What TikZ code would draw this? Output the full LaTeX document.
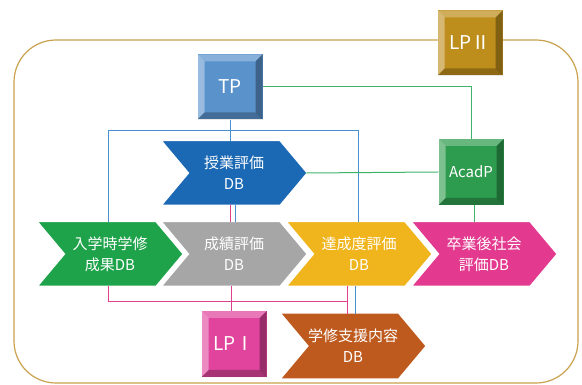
\documentclass[tikz,border=0pt]{standalone}
\usepackage{fontspec}
\setmainfont{Noto Sans CJK JP}
\usetikzlibrary{shapes.symbols,calc}
\definecolor{framec}{HTML}{C9A24E}
\definecolor{lptwo}{HTML}{BE8E1C}
\definecolor{tpc}{HTML}{5A92CC}
\definecolor{acadc}{HTML}{2E9C4E}
\definecolor{jugc}{HTML}{1B68B4}
\definecolor{nyuc}{HTML}{1FA34A}
\definecolor{seic}{HTML}{A6A6A6}
\definecolor{tasc}{HTML}{F0B41C}
\definecolor{sotc}{HTML}{E33A8F}
\definecolor{orac}{HTML}{BF5A1F}
\definecolor{lponec}{HTML}{E0449C}
\definecolor{bline}{HTML}{4A8FD0}
\definecolor{gline}{HTML}{3FB36A}
\definecolor{pline}{HTML}{E0418F}
\tikzset{
  bevelbox/.style={draw=none, fill=#1, minimum width=65pt, minimum height=65pt, inner sep=0pt,
    text=white, font=\fontsize{19}{21}\selectfont,
    path picture={
      \coordinate (ppnw) at (path picture bounding box.north west);
      \coordinate (ppse) at (path picture bounding box.south east);
      \fill[white,opacity=.28] (ppnw) -- (ppnw -| ppse) -- ([shift={(-7pt,-7pt)}]ppnw -| ppse) -- ([shift={(7pt,-7pt)}]ppnw) -- cycle;
      \fill[white,opacity=.38] (ppnw) -- (ppnw |- ppse) -- ([shift={(7pt,7pt)}]ppnw |- ppse) -- ([shift={(7pt,-7pt)}]ppnw) -- cycle;
      \fill[black,opacity=.25] (ppse) -- (ppnw |- ppse) -- ([shift={(7pt,7pt)}]ppnw |- ppse) -- ([shift={(-7pt,7pt)}]ppse) -- cycle;
      \fill[black,opacity=.32] (ppse) -- (ppnw -| ppse) -- ([shift={(-7pt,-7pt)}]ppnw -| ppse) -- ([shift={(-7pt,7pt)}]ppse) -- cycle;
    }},
  chev/.style={signal, signal to=east, signal from=west, signal pointer angle=100,
    draw=white, line width=2.5pt, outer sep=-1.3pt, fill=#1, minimum width=148pt, minimum height=66pt, inner sep=0pt,
    text=white, align=center, font=\fontsize{15}{21}\selectfont},
  bl/.style={draw=bline, line width=1pt},
  gl/.style={draw=gline, line width=1pt},
  pl/.style={draw=pline, line width=1pt}
}
\begin{document}
\begin{tikzpicture}[x=1pt,y=-1pt]
\useasboundingbox (0,0) rectangle (582,385);
\fill[white] (0,0) rectangle (582,385);
% frame
\draw[framec, line width=1.2pt, rounded corners=42pt] (14,40) rectangle (578,383);
% helper coordinates
\coordinate (busb) at (0,131);
\coordinate (busp) at (0,302);
% boxes
\node[bevelbox=lptwo] (lp2) at (470,43) {LPⅡ};
\node[bevelbox=tpc] (tp) at (230,87) {TP};
\node[bevelbox=acadc, minimum height=66pt, font=\fontsize{15}{17}\selectfont] (acad) at (471,172) {AcadP};
\node[bevelbox=lponec, minimum height=66pt] (lp1) at (234,344) {LPⅠ};
% chevrons
\node[chev=jugc] (jug) at (234,173) {授業評価\\DB};
\node[chev=nyuc] (nyu) at (110,254) {入学時学修\\成果DB};
\node[chev=seic] (sei) at (234,254) {成績評価\\DB};
\node[chev=tasc] (tas) at (359,254) {達成度評価\\DB};
\node[chev=sotc] (sot) at (484,254) {卒業後社会\\評価DB};
\node[chev=orac, minimum height=67pt] (ora) at (353,346) {学修支援内容\\DB};
% blue connectors
\draw[bl] (tp.south) -- (tp.south |- jug.north);
\draw[bl] ([xshift=-2pt]nyu.north) |- ([xshift=-1pt]tas.north |- busb) -- ([xshift=-1pt]tas.north);
\draw[bl] ([xshift=1.5pt]jug.south) -- ([xshift=1.5pt]sei.north);
\draw[bl] ([xshift=2pt]ora.north) -- ([xshift=2pt]ora.north |- tas.south);
% green connectors
\draw[gl] (tp.east) -| (acad.north);
\draw[gl] (jug.east) -- (acad.west);
\draw[gl] ([xshift=3pt]acad.south) -- ([xshift=3pt]acad.south |- sot.north);
% pink connectors
\draw[pl] ([xshift=-3.5pt]jug.south) -- ([xshift=-3.5pt]sei.north);
\draw[pl] ([xshift=-2pt]nyu.south) |- ([xshift=-6pt]ora.north |- busp);
\draw[pl] ([xshift=-6pt]ora.north) -- ([xshift=-6pt]ora.north |- tas.south);
\draw[pl] ([xshift=-3pt]lp1.north) -- ([xshift=-3pt]lp1.north |- sei.south);
\end{tikzpicture}
\end{document}
